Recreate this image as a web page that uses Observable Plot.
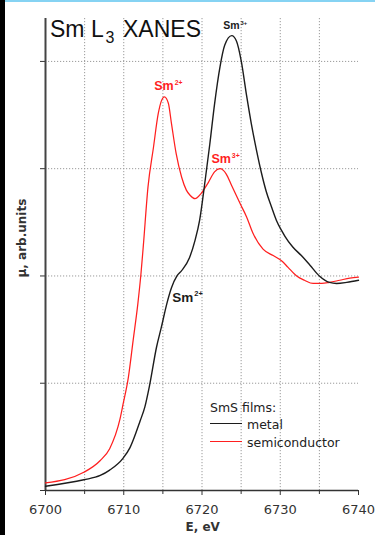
<!DOCTYPE html>
<html>
<head>
<meta charset="utf-8">
<script src="https://cdn.jsdelivr.net/npm/d3@7"></script>
<script src="https://cdn.jsdelivr.net/npm/@observablehq/plot@0.6"></script>
<style>
  html, body { margin: 0; padding: 0; background: #fff; }
  #wrap { position: relative; width: 375px; height: 535px; overflow: hidden; }
  #edgeTop { position: absolute; left: 0; top: 0; width: 375px; height: 2px; background: #86d3f3; }
  #edgeLeft { position: absolute; left: 0; top: 0; width: 5px; height: 535px; background: #000; }
  #legend { position: absolute; left: 210px; top: 0; font: 12.5px "DejaVu Sans", sans-serif; color: #222; }
  #legend .row { position: absolute; left: 0; white-space: nowrap; line-height: 15px; }
  #legend .sw { position: absolute; left: 0; width: 32px; height: 0; border-top: 1.3px solid; }
</style>
</head>
<body>
<div id="wrap">
  <div id="chart"></div>
  <div id="legend"></div>
  <div id="edgeTop"></div>
  <div id="edgeLeft"></div>
</div>
<script>
// Sm L3-edge XANES of SmS films: absorption μ (arb. units) versus photon energy E (eV)
const energyMetal = [6700.0, 6704.9, 6707.0, 6708.2, 6709.9, 6710.8, 6712.1, 6712.7, 6713.3, 6714.2,
  6714.8, 6715.5, 6716.1, 6716.8, 6717.4, 6718.4, 6719.1, 6719.7, 6720.4, 6721.0,
  6721.6, 6722.3, 6722.9, 6723.8, 6724.4, 6725.0, 6725.7, 6726.3, 6727.0, 6727.6,
  6728.2, 6728.9, 6729.5, 6730.2, 6730.6, 6731.6, 6732.7, 6733.8, 6735.0, 6736.3,
  6737.2, 6738.5, 6740.0];
const muMetal = [0.04, 0.10, 0.14, 0.19, 0.30, 0.40, 0.65, 0.78, 0.98, 1.34,
  1.52, 1.74, 1.89, 2.00, 2.05, 2.17, 2.33, 2.52, 2.89, 3.23,
  3.60, 3.95, 4.15, 4.24, 4.19, 4.01, 3.68, 3.42, 3.16, 2.96,
  2.79, 2.64, 2.52, 2.42, 2.37, 2.27, 2.19, 2.10, 2.00, 1.94,
  1.93, 1.94, 1.96];

const energySemi = [6700.0, 6704.9, 6707.0, 6708.2, 6709.5, 6709.9, 6710.6, 6711.2, 6711.8, 6712.2,
  6712.5, 6713.1, 6713.8, 6714.4, 6714.8, 6715.2, 6715.7, 6716.1, 6716.7, 6717.4,
  6718.0, 6718.5, 6719.1, 6719.9, 6720.8, 6721.6, 6722.3, 6723.1, 6723.8, 6724.9,
  6725.7, 6726.5, 6727.8, 6729.1, 6730.2, 6731.0, 6732.1, 6733.1, 6734.2, 6735.3,
  6736.3, 6737.6, 6738.9, 6740.0];
const muSemi = [0.07, 0.17, 0.28, 0.39, 0.66, 0.80, 1.06, 1.40, 1.74, 2.02,
  2.28, 2.83, 3.20, 3.51, 3.63, 3.67, 3.61, 3.42, 3.14, 2.92,
  2.80, 2.75, 2.72, 2.77, 2.87, 2.97, 3.00, 2.95, 2.84, 2.67,
  2.55, 2.40, 2.25, 2.19, 2.14, 2.08, 2.00, 1.96, 1.93, 1.93,
  1.94, 1.96, 1.98, 1.99];

const xTickLabels = [6700, 6710, 6720, 6730, 6740];
const xMinorTicks = [6705, 6715, 6725, 6735];
const xGridLines = [6705, 6710, 6715, 6720, 6725, 6730, 6735];
const yGridLines = [1, 2, 3, 4];

// valence annotations next to the spectral features
const peakText = ["Sm", "Sm", "Sm", "Sm"];
const peakCharge = ["3+", "2+", "3+", "2+"];
const peakEnergy = [6722.7, 6713.9, 6721.2, 6716.2];
const peakMu = [4.30, 3.73, 3.05, 1.76];
const peakSeries = ["metal", "semiconductor", "semiconductor", "metal"];

const seriesNames = ["metal", "semiconductor"];
const legendTitle = "SmS films:";

const colors = { metal: "#1c1c1c", semiconductor: "#ff1f1f" };

const metal = energyMetal.map((E, i) => ({ E, mu: muMetal[i] }));
const semi = energySemi.map((E, i) => ({ E, mu: muSemi[i] }));
const peaks = peakText.map((text, i) => ({
  E: peakEnergy[i], mu: peakMu[i], text, charge: peakCharge[i], series: peakSeries[i]
}));

const peakSize = [10.5, 12.5, 12.5, 13.5];
const sans = "Liberation Sans";

const peakMarks = peaks.flatMap((p, i) => [
  Plot.text([p], {
    x: "E", y: "mu", text: "text", fill: colors[p.series],
    fontSize: peakSize[i], fontWeight: "bold", fontFamily: sans,
    textAnchor: "start", lineAnchor: "bottom"
  }),
  Plot.text([p], {
    x: "E", y: "mu", text: "charge", fill: colors[p.series],
    fontSize: peakSize[i] * 0.55, fontWeight: "bold", fontFamily: sans,
    textAnchor: "start", lineAnchor: "bottom",
    dx: peakSize[i] * 1.556 + 1, dy: -peakSize[i] * 0.42
  })
]);

const gridStyle = { stroke: "#9a9a9a", strokeOpacity: 1, strokeWidth: 1, strokeDasharray: "1.2,1.8" };

const chart = Plot.plot({
  width: 375,
  height: 535,
  marginLeft: 45,
  marginRight: 17,
  marginTop: 18,
  marginBottom: 45,
  style: { fontFamily: "DejaVu Sans", background: "transparent", overflow: "visible" },
  x: { domain: [6700, 6740] },
  y: { domain: [0, 4.4] },
  marks: [
    Plot.gridX(xGridLines, gridStyle),
    Plot.gridY(yGridLines, gridStyle),
    Plot.axisX(xTickLabels, {
      tickSize: 5, tickPadding: 9, fontSize: 13, fontFamily: "DejaVu Sans",
      tickFormat: "d", label: null, stroke: "#333", fill: "#333"
    }),
    Plot.axisX(xMinorTicks, { tickSize: 4, tickFormat: () => "", label: null, stroke: "#333" }),
    Plot.axisY([0, ...yGridLines], { tickSize: 5, tickFormat: () => "", label: null, stroke: "#333" }),
    Plot.ruleX([6700], { stroke: "#444", strokeWidth: 2 }),
    Plot.ruleY([0], { stroke: "#333", strokeWidth: 1.5 }),
    Plot.line(semi, { x: "E", y: "mu", stroke: colors.semiconductor, strokeWidth: 1.25, curve: "monotone-x" }),
    Plot.line(metal, { x: "E", y: "mu", stroke: colors.metal, strokeWidth: 1.4, curve: "monotone-x" }),
    ...peakMarks,
    // chart title with subscripted edge index
    Plot.text(["Sm L"], { frameAnchor: "top-left", dx: 4.5, dy: 18, textAnchor: "start", lineAnchor: "bottom", fontSize: 23, fontFamily: sans, fill: "#111" }),
    Plot.text(["3"], { frameAnchor: "top-left", dx: 60, dy: 24.5, textAnchor: "start", lineAnchor: "bottom", fontSize: 16, fontFamily: sans, fill: "#111" }),
    Plot.text(["XANES"], { frameAnchor: "top-left", dx: 77.5, dy: 18, textAnchor: "start", lineAnchor: "bottom", fontSize: 23, fontFamily: sans, fill: "#111" }),
    // axis titles
    Plot.text(["E, eV"], { frameAnchor: "bottom-left", dx: 140, dy: 40, lineAnchor: "bottom", fontSize: 12, fontWeight: "bold", fill: "#333" }),
    Plot.text(["μ, arb.units"], { frameAnchor: "left", rotate: -90, dx: -23, dy: 23, fontSize: 12, fontWeight: "bold", fill: "#333" })
  ]
});
document.getElementById("chart").appendChild(chart);

// legend: title row then one swatch row per series
const legend = document.getElementById("legend");
const rowTops = [400, 416.5, 434.5];
const addRow = (top, left, text) => {
  const d = document.createElement("div");
  d.className = "row";
  d.style.top = top + "px";
  d.style.left = left + "px";
  d.textContent = text;
  legend.appendChild(d);
};
addRow(rowTops[0], 0, legendTitle);
seriesNames.forEach((name, i) => {
  const top = rowTops[i + 1];
  const sw = document.createElement("div");
  sw.className = "sw";
  sw.style.top = (top + 6.5) + "px";
  sw.style.borderTopColor = colors[name];
  legend.appendChild(sw);
  addRow(top, 37, name);
});
</script>
</body>
</html>
